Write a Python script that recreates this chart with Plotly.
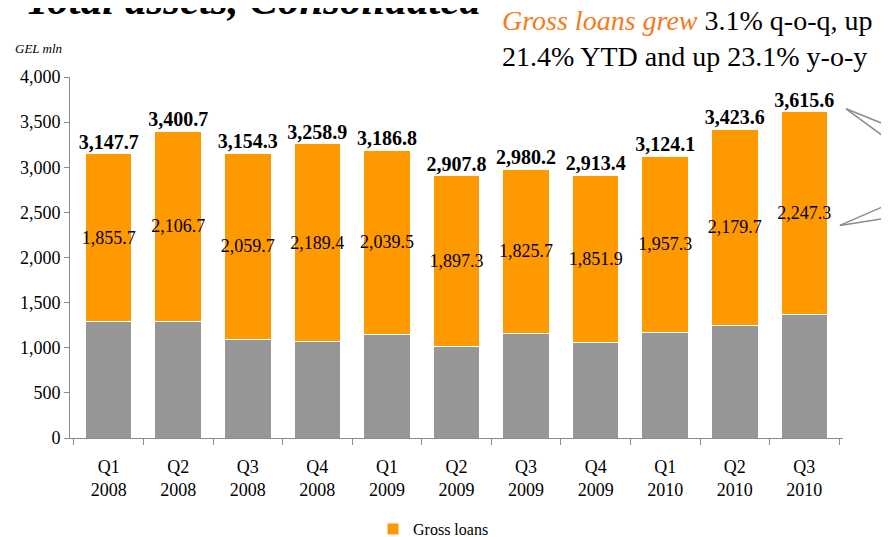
import plotly.graph_objects as go

# Data (GEL mln)
quarters = ["Q1<br>2008", "Q2<br>2008", "Q3<br>2008", "Q4<br>2008", "Q1<br>2009", "Q2<br>2009",
            "Q3<br>2009", "Q4<br>2009", "Q1<br>2010", "Q2<br>2010", "Q3<br>2010"]
total_assets = [3147.7, 3400.7, 3154.3, 3258.9, 3186.8, 2907.8, 2980.2, 2913.4, 3124.1, 3423.6, 3615.6]
gross_loans = [1855.7, 2106.7, 2059.7, 2189.4, 2039.5, 1897.3, 1825.7, 1851.9, 1957.3, 2179.7, 2247.3]
other_assets = [1292.0, 1294.0, 1094.6, 1069.5, 1147.3, 1010.5, 1154.5, 1061.5, 1166.8, 1243.9, 1368.3]

SERIF = "Liberation Serif, Times New Roman, serif"
ORANGE = "#FF9900"
GREY = "#969696"
AXIS = "#8c8c8c"

fig = go.Figure()

# grey base
fig.add_trace(go.Bar(x=quarters, y=other_assets, marker=dict(color=GREY, line=dict(color="white", width=1)),
                     showlegend=False, hoverinfo="skip"))

# gross loans stacked on top
fig.add_trace(go.Bar(x=quarters, y=gross_loans, name="Gross loans",
                     marker=dict(color=ORANGE, line=dict(color="white", width=1)),
                     text=[f"{v:,.1f}" for v in gross_loans], textposition="inside",
                     insidetextanchor="middle", constraintext="none", textangle=0,
                     textfont=dict(family=SERIF, size=18, color="black")))

# total labels above bars
fig.add_trace(go.Scatter(x=quarters, y=total_assets, mode="text",
                         text=[f"<b>{v:,.1f}</b>" for v in total_assets],
                         textposition="top center",
                         textfont=dict(family=SERIF, size=20, color="black"),
                         showlegend=False, hoverinfo="skip"))

# page body has an 8px margin, so the figure is shrunk by that much
fig.update_layout(
    barmode="stack",
    bargap=0.33,
    width=881, height=529,
    margin=dict(l=62, r=46, t=69, b=95),
    plot_bgcolor="white", paper_bgcolor="white",
    font=dict(family=SERIF, size=18, color="black"),
    showlegend=True,
    legend=dict(orientation="h", xref="container", yref="container",
                x=0.483, xanchor="center", y=0.015, yanchor="middle",
                font=dict(family=SERIF, size=16, color="black"), itemwidth=30),
)

fig.update_yaxes(range=[0, 4000], dtick=500, tickformat=",", showgrid=False, zeroline=False,
                 showline=True, linecolor=AXIS, linewidth=1, ticks="outside", ticklen=5,
                 tickcolor=AXIS, tickfont=dict(family=SERIF, size=18, color="black"))
fig.update_xaxes(showgrid=False, showline=True, linecolor=AXIS, linewidth=1,
                 ticks="outside", tickson="boundaries", ticklen=6, tickcolor=AXIS,
                 ticklabelstandoff=12,
                 tickfont=dict(family=SERIF, size=18, color="black"))

# axis unit label
fig.add_annotation(text="<i>GEL mln</i>", xref="paper", yref="paper", x=-0.074, y=1.079,
                   xanchor="left", yanchor="middle", showarrow=False,
                   font=dict(family=SERIF, size=13, color="black"))

# slide title (cropped at top)
fig.add_annotation(text="<b><i>Total assets, Consolidated</i></b>", xref="paper", yref="paper",
                   x=-0.061, y=1.215, xanchor="left", yanchor="middle", showarrow=False,
                   font=dict(family=SERIF, size=43, color="black"))

# commentary text
fig.add_annotation(text="<i><span style='color:#F47B20'>Gross loans grew</span></i> 3.1% q-o-q, up<br>"
                        "21.4% YTD and up 23.1% y-o-y",
                   xref="paper", yref="paper", x=0.556, y=1.107, xanchor="left", yanchor="middle",
                   align="left", showarrow=False,
                   font=dict(family=SERIF, size=28, color="black"))

# callout lines toward the right edge
for x0, y0, x1, y1 in [(1.004, 0.912, 1.07, 0.855), (1.004, 0.912, 1.07, 0.808),
                       (0.996, 0.589, 1.07, 0.658), (0.996, 0.589, 1.07, 0.614)]:
    fig.add_shape(type="line", xref="paper", yref="paper", x0=x0, y0=y0, x1=x1, y1=y1,
                  line=dict(color=AXIS, width=1.5))

fig.write_html("out.html")
